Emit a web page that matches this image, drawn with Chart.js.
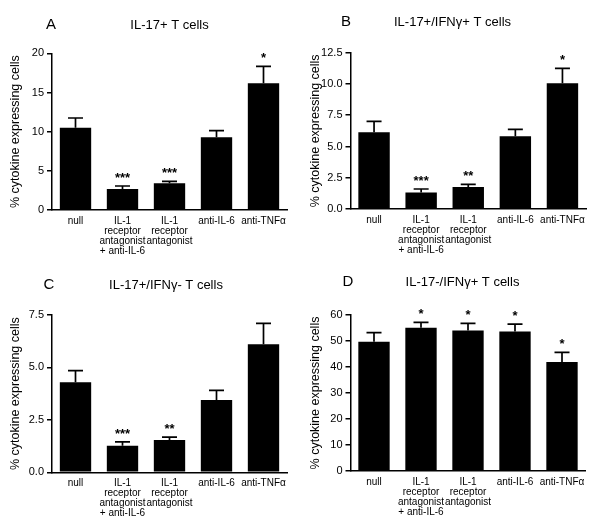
<!DOCTYPE html>
<html><head><meta charset="utf-8">
<script src="https://cdn.jsdelivr.net/npm/chart.js@4"></script>
<style>
html,body{margin:0;padding:0;background:#fff;}
#wrap{position:relative;width:600px;height:531px;overflow:hidden;}
.panel{position:absolute;width:300px;}
canvas{display:block;}
</style></head><body>
<div id="wrap">
<div class="panel" style="left:0;top:0;height:265px"><canvas id="cA" width="300" height="265"></canvas></div>
<div class="panel" style="left:300px;top:0;height:265px"><canvas id="cB" width="300" height="265"></canvas></div>
<div class="panel" style="left:0;top:265px;height:266px"><canvas id="cC" width="300" height="266"></canvas></div>
<div class="panel" style="left:300px;top:265px;height:266px"><canvas id="cD" width="300" height="266"></canvas></div>
</div>
<script>
// ---- data ----
const categories = [["null"], ["IL-1","receptor","antagonist","+ anti-IL-6"], ["IL-1","receptor","antagonist"], ["anti-IL-6"], ["anti-TNFα"]];
const panelLetters = ["A", "B", "C", "D"];
const panelTitles = ["IL-17+ T cells", "IL-17+/IFNγ+ T cells", "IL-17+/IFNγ- T cells", "IL-17-/IFNγ+ T cells"];
const yAxisTitle = "% cytokine expressing cells";

const meanA = [10.5, 2.68, 3.4, 9.28, 16.17];
const errA  = [1.24, 0.38, 0.26, 0.85, 2.17];
const sigA  = ["", "***", "***", "", "*"];

const meanB = [6.13, 1.31, 1.76, 5.81, 10.05];
const errB  = [0.88, 0.29, 0.21, 0.56, 1.2];
const sigB  = ["", "***", "**", "", "*"];

const meanC = [4.29, 1.26, 1.54, 3.45, 6.10];
const errC  = [0.56, 0.19, 0.14, 0.46, 1.0];
const sigC  = ["", "***", "**", "", ""];

const meanD = [49.7, 55.1, 54.0, 53.7, 41.9];
const errD  = [3.5, 2.1, 2.8, 2.8, 3.7];
const sigD  = ["", "*", "*", "*", "*"];

const yMax = [20, 12.5, 7.5, 60];
const yStep = [5, 2.5, 2.5, 10];
const yDecimals = [0, 1, 1, 0];

// ---- layout (not data) ----
const FONT = "'Liberation Sans', Arial, Helvetica, sans-serif";
const layouts = [
  {id:'cA', h:265, area:[52, 53.3, 287, 210], letter:[51, 25], title:[169.5, 25]},
  {id:'cB', h:265, area:[50.5, 52.7, 286, 209], letter:[46, 22], title:[152.5, 22]},
  {id:'cC', h:266, area:[52, 50, 287, 207.3], letter:[49, 20], title:[166, 20]},
  {id:'cD', h:266, area:[50.5, 50, 285.5, 206], letter:[48, 17], title:[162.5, 17]}
];
const means = [meanA, meanB, meanC, meanD];
const errs = [errA, errB, errC, errD];
const sigs = [sigA, sigB, sigC, sigD];

const annot = {
  id: 'annot',
  afterDatasetsDraw(chart, args, o) {
    const ctx = chart.ctx, ys = chart.scales.y;
    const meta = chart.getDatasetMeta(0);
    const data = chart.data.datasets[0].data;
    ctx.save();
    ctx.strokeStyle = '#000';
    ctx.fillStyle = '#000';
    ctx.lineWidth = 1.7;
    meta.data.forEach((bar, i) => {
      const top = ys.getPixelForValue(data[i] + o.err[i]);
      ctx.beginPath();
      ctx.moveTo(bar.x, bar.y);
      ctx.lineTo(bar.x, top);
      ctx.moveTo(bar.x - 7.5, top);
      ctx.lineTo(bar.x + 7.5, top);
      ctx.stroke();
      if (o.sig[i]) {
        ctx.font = "bold 13px " + FONT;
        ctx.textAlign = 'center';
        ctx.textBaseline = 'alphabetic';
        ctx.fillText(o.sig[i], bar.x, top - 4.3);
      }
    });
    ctx.textBaseline = 'middle';
    ctx.textAlign = 'center';
    ctx.font = "15px " + FONT;
    ctx.fillText(o.letter, o.letterPos[0], o.letterPos[1]);
    ctx.font = "13px " + FONT;
    ctx.fillText(o.title, o.titlePos[0], o.titlePos[1]);
    ctx.restore();
  }
};

layouts.forEach((L, p) => {
  const [l, t, r, b] = L.area;
  new Chart(document.getElementById(L.id), {
    type: 'bar',
    data: {
      labels: categories,
      datasets: [{
        data: means[p],
        backgroundColor: '#000',
        borderWidth: 0,
        barPercentage: 0.667,
        categoryPercentage: 1
      }]
    },
    plugins: [annot],
    options: {
      responsive: false,
      animation: false,
      events: [],
      layout: {padding: {left: 0, top: t, right: 300 - r, bottom: 0}},
      plugins: {
        legend: {display: false},
        tooltip: {enabled: false},
        annot: {err: errs[p], sig: sigs[p], letter: panelLetters[p], title: panelTitles[p], letterPos: L.letter, titlePos: L.title}
      },
      scales: {
        x: {
          afterFit(s) { s.height = L.h - b; },
          grid: {display: true, drawOnChartArea: false, drawTicks: false, color: '#000'},
          border: {display: true, color: '#000', width: 1.5},
          ticks: {
            autoSkip: false, maxRotation: 0, minRotation: 0, padding: 6,
            color: '#000', font: {family: FONT, size: 10, lineHeight: 1.0}
          }
        },
        y: {
          min: 0, max: yMax[p],
          afterFit(s) { s.width = l; },
          grid: {display: true, drawOnChartArea: false, drawTicks: true, tickLength: 5, color: '#000', lineWidth: 1.5},
          border: {display: true, color: '#000', width: 1.5},
          ticks: {
            stepSize: yStep[p], padding: 3, color: '#000',
            font: {family: FONT, size: 11},
            callback: v => Number(v).toFixed(yDecimals[p])
          },
          title: {display: true, text: yAxisTitle, color: '#000', font: {family: FONT, size: 12.5}, padding: {top: 8, bottom: 0}}
        }
      }
    }
  });
});
</script>
</body></html>
